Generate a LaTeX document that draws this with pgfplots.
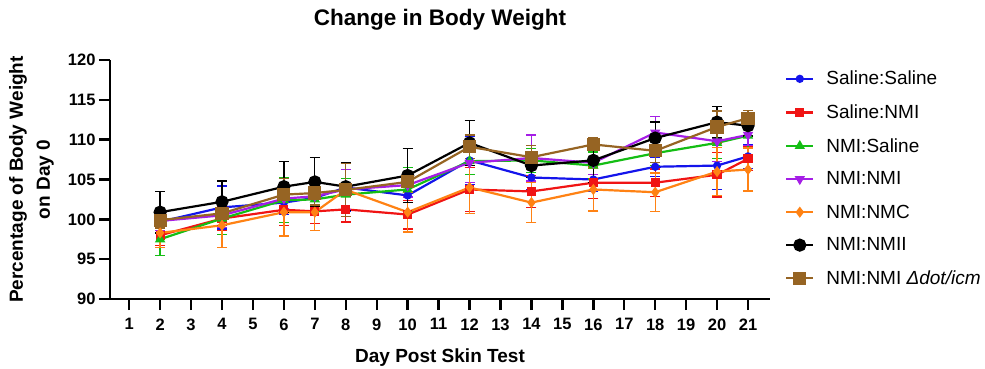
\documentclass[border=0pt]{standalone}
\usepackage{fontspec}
\setmainfont{Liberation Sans}
\usepackage{pgfplots}
\usepackage{pgfplotstable}
\pgfplotsset{compat=1.18}

\definecolor{cBlue}{RGB}{20,20,235}
\definecolor{cRed}{RGB}{240,20,20}
\definecolor{cGreen}{RGB}{20,190,20}
\definecolor{cPurple}{RGB}{165,30,230}
\definecolor{cOrange}{RGB}{255,130,20}
\definecolor{cBrown}{RGB}{150,100,35}

% day, mean, error
\pgfplotstableread{
x y e
2 99.7 1.5
4 101.5 2.7
6 102.1 1.5
7 102.7 1.3
8 104.0 3.0
10 103.0 2.0
12 107.4 3.0
14 105.25 1.5
16 105.0 1.5
18 106.6 1.2
20 106.75 3.0
21 107.9 1.5
}\salsal
\pgfplotstableread{
x y e
2 98.0 1.3
4 100.1 1.5
6 101.2 2.0
7 101.0 1.5
8 101.25 1.6
10 100.6 1.8
12 103.75 2.8
14 103.5 2.0
16 104.6 2.0
18 104.6 1.7
20 105.6 2.8
21 107.6 1.5
}\salnmi
\pgfplotstableread{
x y e
2 97.5 2.0
4 100.1 2.0
6 102.4 2.8
7 102.5 1.5
8 103.1 2.0
10 103.75 2.8
12 107.3 1.7
14 107.4 1.5
16 106.75 1.7
18 108.3 1.5
20 109.6 2.0
21 110.5 1.5
}\nmisal
\pgfplotstableread{
x y e
2 99.8 1.2
4 100.5 1.5
6 102.6 1.2
7 102.9 1.5
8 103.75 2.5
10 104.3 1.5
12 107.1 2.5
14 107.7 2.9
16 107.1 1.5
18 110.9 2.0
20 109.8 2.5
21 110.6 1.3
}\nminmi
\pgfplotstableread{
x y e
2 98.3 1.8
4 99.25 2.8
6 100.9 3.0
7 100.9 2.3
8 103.7 3.3
10 100.9 2.5
12 104.0 3.3
14 102.1 2.5
16 103.75 2.7
18 103.4 2.4
20 106.0 3.0
21 106.25 2.7
}\nminmc
\pgfplotstableread{
x y e
2 100.9 2.6
4 102.2 2.6
6 104.1 3.2
7 104.7 3.1
8 104.1 3.0
10 105.5 3.4
12 109.6 2.8
14 106.75 1.5
16 107.4 2.8
18 110.2 2.0
20 112.2 2.0
21 111.75 1.3
}\nminmii
\pgfplotstableread{
x y e
2 99.9 1.0
4 100.75 1.5
6 103.1 2.0
7 103.3 1.5
8 103.7 3.3
10 104.7 1.2
12 109.1 1.5
14 107.8 1.5
16 109.4 0.8
18 108.6 1.5
20 111.6 2.0
21 112.7 1.0
}\nminmidot

\begin{document}
\begin{tikzpicture}
\useasboundingbox (-110pt,-69pt) rectangle (875pt,299pt);
\begin{axis}[
  at={(0pt,0pt)}, anchor=south west,
  scale only axis, width=660pt, height=239pt,
  xmin=0.38, xmax=21.71, ymin=90, ymax=120,
  axis x line=bottom, axis y line=left,
  axis line style={-, line width=2.4pt},
  xtick={1,...,21}, ytick={90,95,...,120},
  tick align=outside, major tick length=11pt,
  tick style={line width=2.4pt, black},
  minor tick num=0,
  /pgf/number format/assume math mode=true,
  ticklabel style={font=\fontsize{16.5}{18}\selectfont\bfseries},
  xticklabel style={yshift=-5pt},
  title={Change in Body Weight},
  title style={font=\fontsize{22.5}{26}\selectfont\bfseries, at={(0.5,1)}, anchor=center, yshift=34pt},
  xlabel={Day Post Skin Test},
  xlabel style={font=\fontsize{19}{22}\selectfont\bfseries, at={(0.5,0)}, anchor=center, yshift=-59pt},
  ylabel={Percentage of Body Weight\\on Day 0},
  ylabel style={font=\fontsize{19}{27}\selectfont\bfseries, align=center, at={(0,0.5)}, anchor=center, yshift=78.5pt},
  legend style={draw=none, fill=none, at={(1,1)}, anchor=north west, xshift=15pt, yshift=-9pt,
    font=\fontsize{19}{22}\selectfont, row sep=14.3pt, inner sep=0pt, cells={anchor=west},
    /tikz/every odd column/.append style={column sep=10pt}},
  legend cell align=left,
  legend image code/.code={\draw[mark repeat=2,mark phase=2] plot coordinates {(0pt,0pt) (13.5pt,0pt) (27pt,0pt)};},
  every axis plot/.append style={line width=2.2pt},
  clip=false,
]
\addplot[cBlue, mark=*, mark size=3pt, error bars/.cd, y dir=both, y explicit,
  error bar style={line width=1.3pt}, error mark options={rotate=90, cBlue, mark size=5pt, line width=1.3pt}]
  table[x=x, y=y, y error=e] {\salsal};
\addlegendentry{Saline:Saline}
\addplot[cRed, mark=square*, mark size=3.5pt, error bars/.cd, y dir=both, y explicit,
  error bar style={line width=1.3pt}, error mark options={rotate=90, cRed, mark size=5pt, line width=1.3pt}]
  table[x=x, y=y, y error=e] {\salnmi};
\addlegendentry{Saline:NMI}
\addplot[cGreen, mark=triangle*, mark size=3.8pt, error bars/.cd, y dir=both, y explicit,
  error bar style={line width=1.3pt}, error mark options={rotate=90, cGreen, mark size=5pt, line width=1.3pt}]
  table[x=x, y=y, y error=e] {\nmisal};
\addlegendentry{NMI:Saline}
\addplot[cPurple, mark=triangle*, mark options={rotate=180}, mark size=3.8pt, error bars/.cd, y dir=both, y explicit,
  error bar style={line width=1.3pt}, error mark options={rotate=90, cPurple, mark size=5pt, line width=1.3pt}]
  table[x=x, y=y, y error=e] {\nminmi};
\addlegendentry{NMI:NMI}
\addplot[cOrange, mark=diamond*, mark size=3.8pt, error bars/.cd, y dir=both, y explicit,
  error bar style={line width=1.3pt}, error mark options={rotate=90, cOrange, mark size=5pt, line width=1.3pt}]
  table[x=x, y=y, y error=e] {\nminmc};
\addlegendentry{NMI:NMC}
\addplot[black, mark=*, mark size=5.5pt, error bars/.cd, y dir=both, y explicit,
  error bar style={line width=1.3pt}, error mark options={rotate=90, black, mark size=5pt, line width=1.3pt}]
  table[x=x, y=y, y error=e] {\nminmii};
\addlegendentry{NMI:NMII}
\addplot[cBrown, mark=square*, mark size=5.5pt, error bars/.cd, y dir=both, y explicit,
  error bar style={line width=1.3pt}, error mark options={rotate=90, cBrown, mark size=5pt, line width=1.3pt}]
  table[x=x, y=y, y error=e] {\nminmidot};
\addlegendentry{NMI:NMI \textit{Δdot/icm}}
\end{axis}
\end{tikzpicture}
\end{document}
